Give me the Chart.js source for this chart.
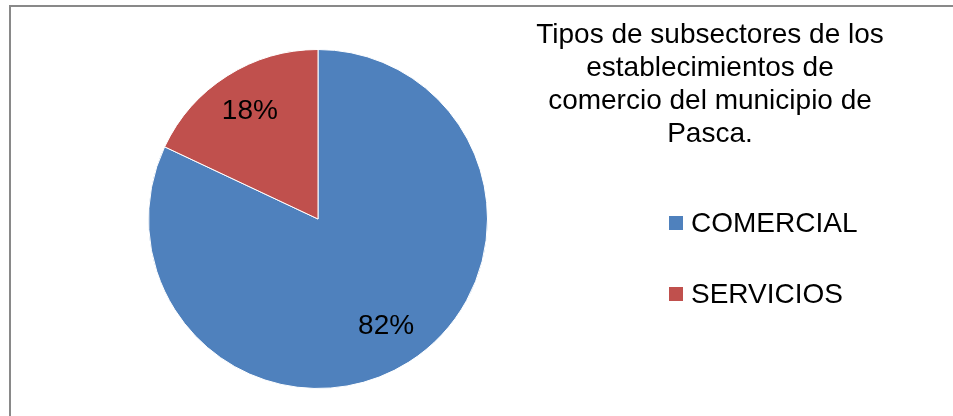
<!DOCTYPE html>
<html>
<head>
<meta charset="utf-8">
<script src="https://cdn.jsdelivr.net/npm/chart.js@4"></script>
<style>
  body { margin: 0; background: #fff; font-family: "Liberation Sans", Arial, sans-serif; }
  #wrap { position: relative; width: 953px; height: 416px; overflow: hidden; }
  #frame { position: absolute; left: 9px; top: 5px; width: 980px; height: 440px;
           border-left: 2px solid #898989; border-top: 2px solid #898989; }
  #chart { position: absolute; left: 0; top: 0; }
  #title { position: absolute; left: 510px; width: 400px; top: 17px; text-align: center;
           font-size: 28px; line-height: 33px; color: #000; }
  .item { position: absolute; left: 669px; height: 30px; display: flex; align-items: center;
          font-size: 28px; color: #000; }
  .item span.box { width: 14px; height: 14px; margin-right: 8px; }
</style>
</head>
<body>
<div id="wrap">
  <div id="frame"></div>
  <canvas id="chart" width="953" height="416"></canvas>
  <div id="title"></div>
</div>
<script>
const titleLines = ["Tipos de subsectores de los", "establecimientos de", "comercio del municipio de", "Pasca."]
const labels = ["COMERCIAL", "SERVICIOS"]
const values = [82, 18]
const colors = ["#4F81BD", "#C0504D"]

// title and legend as html text
document.getElementById("title").innerHTML = titleLines.join("<br>")
const wrap = document.getElementById("wrap")
labels.forEach((label, i) => {
  const item = document.createElement("div")
  item.className = "item"
  item.style.top = (208 + i * 71) + "px"
  item.innerHTML = '<span class="box" style="background:' + colors[i] + '"></span>' + label
  wrap.appendChild(item)
})

// percent labels inside the slices
const pctLabels = {
  id: "pctLabels",
  afterDatasetsDraw(chart) {
    const ctx = chart.ctx
    const meta = chart.getDatasetMeta(0)
    const total = values.reduce((a, b) => a + b, 0)
    ctx.save()
    ctx.font = "28px 'Liberation Sans', Arial, sans-serif"
    ctx.fillStyle = "#000"
    ctx.textAlign = "center"
    ctx.textBaseline = "middle"
    meta.data.forEach((arc, i) => {
      const p = arc.getProps(["x", "y", "startAngle", "endAngle", "outerRadius"], true)
      const mid = (p.startAngle + p.endAngle) / 2
      const r = p.outerRadius * 0.75
      const text = Math.round(values[i] / total * 100) + "%"
      ctx.fillText(text, p.x + Math.cos(mid) * r, p.y + Math.sin(mid) * r)
    })
    ctx.restore()
  }
}

new Chart(document.getElementById("chart").getContext("2d"), {
  type: "pie",
  data: {
    labels: labels,
    datasets: [{
      data: values,
      backgroundColor: colors,
      borderColor: "#ffffff",
      borderWidth: 1
    }]
  },
  options: {
    responsive: false,
    animation: false,
    layout: { padding: { left: 148, top: 49, right: 465, bottom: 27 } },
    plugins: {
      legend: { display: false },
      tooltip: { enabled: false }
    }
  },
  plugins: [pctLabels]
})
</script>
</body>
</html>
